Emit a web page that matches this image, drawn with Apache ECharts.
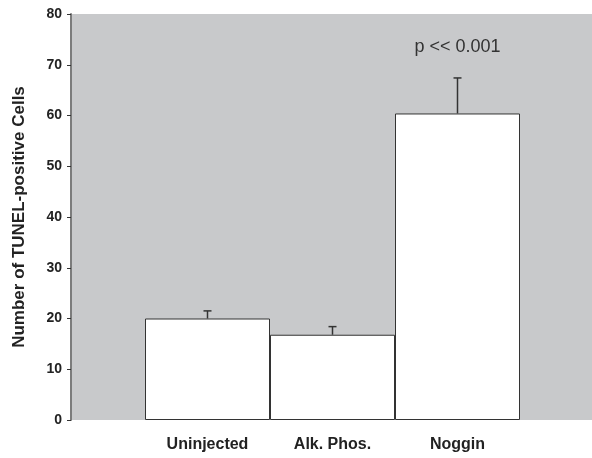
<!DOCTYPE html>
<html>
<head>
<meta charset="utf-8">
<script src="https://cdn.jsdelivr.net/npm/echarts@6/dist/echarts.min.js"></script>
<style>html,body{margin:0;padding:0;background:#fff}#c{width:592px;height:458px}</style>
</head>
<body>
<div id="c"></div>
<script>
var categories = ['Uninjected', 'Alk. Phos.', 'Noggin'];
var means = [20, 16.8, 60.4];
var errTops = [21.5, 18.4, 67.4];
var yTicks = [0, 10, 20, 30, 40, 50, 60, 70, 80];
var annotation = 'p << 0.001';
var annotationY = 73.5;

var chart = echarts.init(document.getElementById('c'), null, {renderer: 'canvas'});
var fontFam = 'Liberation Sans, Arial, Helvetica, sans-serif';
chart.setOption({
  animation: false,
  backgroundColor: '#ffffff',
  grid: [
    {left: 71, top: 14, right: 0, bottom: 38, show: true, backgroundColor: '#c8c9cb', borderWidth: 0, containLabel: false, outerBoundsMode: 'none'},
    {left: 145, top: 14, right: 72, bottom: 38, containLabel: false, outerBoundsMode: 'none'}
  ],
  xAxis: [
    {type: 'value', gridIndex: 0, min: 0, max: 1, show: false},
    {type: 'category', gridIndex: 1, data: categories,
     axisLine: {show: false}, axisTick: {show: false},
     axisLabel: {margin: 17, fontFamily: fontFam, fontWeight: 'bold', fontSize: 16, color: '#222'}}
  ],
  yAxis: [
    {type: 'value', gridIndex: 0, min: yTicks[0], max: yTicks[yTicks.length - 1], interval: 10,
     name: 'Number of TUNEL-positive Cells', nameLocation: 'middle', nameGap: 43,
     nameTextStyle: {fontFamily: fontFam, fontWeight: 'bold', fontSize: 17, color: '#222'},
     axisLine: {show: true, lineStyle: {color: '#7c7c7c', width: 2}},
     axisTick: {show: true, length: 4, lineStyle: {color: '#333', width: 1}},
     axisLabel: {margin: 9, fontFamily: fontFam, fontWeight: 'bold', fontSize: 14, color: '#222'},
     splitLine: {show: false}},
    {type: 'value', gridIndex: 1, min: yTicks[0], max: yTicks[yTicks.length - 1], show: false, splitLine: {show: false}}
  ],
  series: [
    {type: 'bar', xAxisIndex: 1, yAxisIndex: 1, data: means, barCategoryGap: '0%',
     itemStyle: {color: '#ffffff', borderColor: '#333', borderWidth: 1},
     markPoint: {symbol: 'circle', symbolSize: 0,
       data: [{coord: [2, annotationY], value: annotation}],
       label: {show: true, position: 'inside', formatter: annotation, fontFamily: fontFam, fontSize: 18, color: '#333'}}},
    {type: 'custom', xAxisIndex: 1, yAxisIndex: 1,
     data: categories.map(function (c, i) { return [i, means[i], errTops[i]]; }),
     renderItem: function (params, api) {
       var base = api.coord([api.value(0), api.value(1)]);
       var top = api.coord([api.value(0), api.value(2)]);
       var hw = 4;
       return {type: 'group', children: [
         {type: 'line', shape: {x1: base[0], y1: base[1], x2: top[0], y2: top[1]}, style: {stroke: '#333', lineWidth: 1.5}},
         {type: 'line', shape: {x1: top[0] - hw, y1: top[1], x2: top[0] + hw, y2: top[1]}, style: {stroke: '#333', lineWidth: 1.5}}
       ]};
     }}
  ]
});
</script>
</body>
</html>
